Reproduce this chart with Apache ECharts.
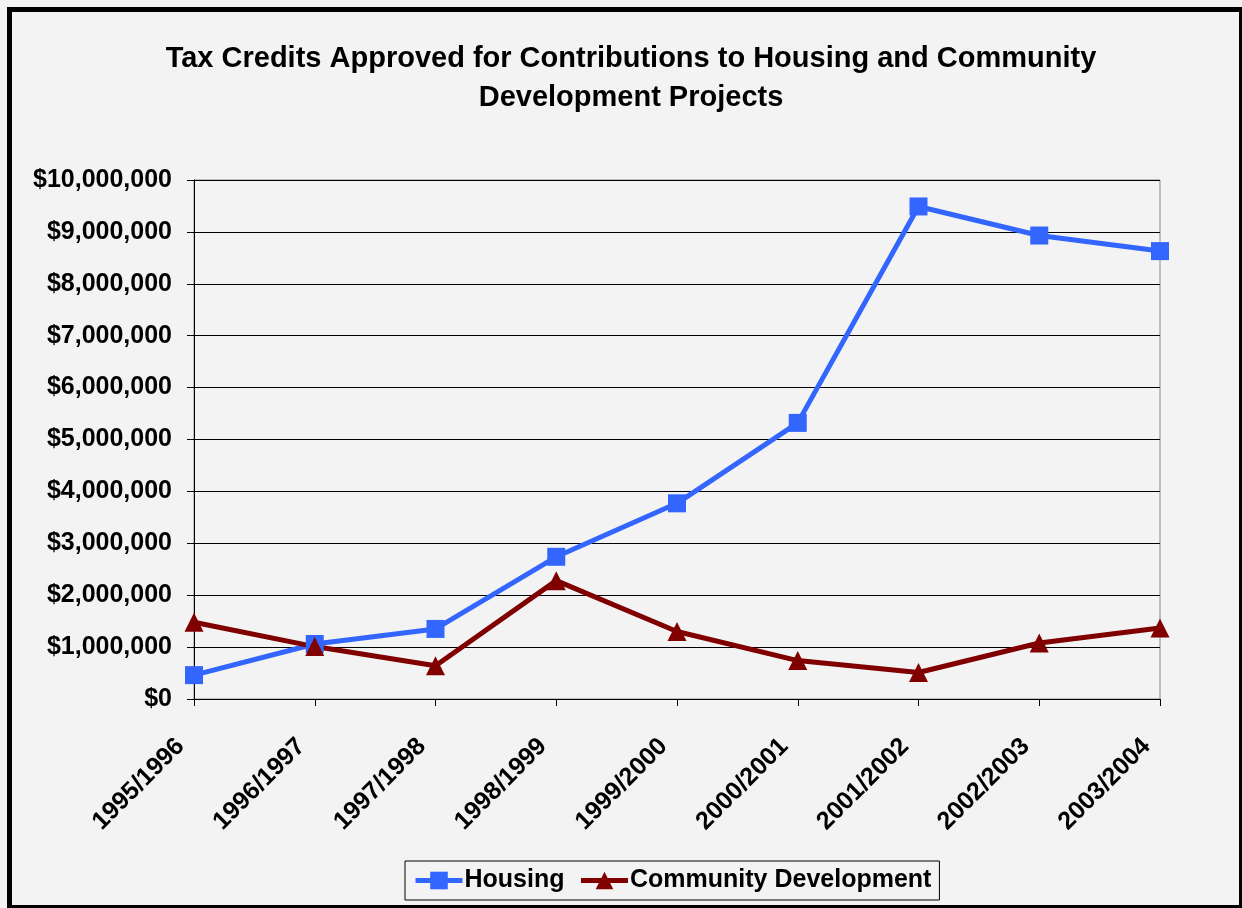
<!DOCTYPE html>
<html>
<head>
<meta charset="utf-8">
<script src="https://cdn.jsdelivr.net/npm/echarts@6/dist/echarts.min.js"></script>
<style>
html,body{margin:0;padding:0;background:#f3f3f3;}
#chart{width:1242px;height:908px;}
</style>
</head>
<body>
<div id="chart"></div>
<script>
const categories = ['1995/1996','1996/1997','1997/1998','1998/1999','1999/2000','2000/2001','2001/2002','2002/2003','2003/2004'];
const housing = [460000, 1060000, 1350000, 2740000, 3770000, 5320000, 9490000, 8930000, 8630000];
const community = [1480000, 1010000, 640000, 2280000, 1300000, 740000, 510000, 1080000, 1370000];
const yTicks = { min: 0, max: 10000000, interval: 1000000 };

const font = 'Liberation Sans, Arial, sans-serif';
const chart = echarts.init(document.getElementById('chart'));
chart.setOption({
  backgroundColor: '#f3f3f3',
  animation: false,
  title: {
    text: 'Tax Credits Approved for Contributions to Housing and Community\nDevelopment Projects',
    left: 626, top: 34, textAlign: 'center',
    textStyle: { fontFamily: font, fontSize: 29, fontWeight: 'bold', color: '#000', lineHeight: 39 }
  },
  graphic: [{
    type: 'rect', silent: true,
    shape: { x: 9.5, y: 9.5, width: 1232, height: 898 },
    style: { fill: 'none', stroke: '#000', lineWidth: 5 }
  }],
  legend: {
    bottom: 8, left: 405,
    data: ['Housing', 'Community Development'],
    itemWidth: 47, itemHeight: 22, itemGap: 14,
    padding: [7, 8, 7, 8],
    borderColor: '#000', borderWidth: 1,
    lineStyle: { width: 5 },
    textStyle: { fontFamily: font, fontSize: 25, fontWeight: 'bold', color: '#000', padding: [0, 0, 0, -3] }
  },
  grid: { left: 194, right: 82, top: 180, bottom: 209, show: true, borderColor: '#888', borderWidth: 1, backgroundColor: 'transparent' },
  xAxis: {
    type: 'category', data: categories, boundaryGap: false,
    axisLine: { lineStyle: { color: '#000', width: 1 } },
    axisTick: { show: true, alignWithLabel: true, length: 7, lineStyle: { color: '#000' } },
    axisLabel: { rotate: 45, margin: 30, padding: [0, 19, 0, 0], interval: 0, fontFamily: font, fontSize: 25, fontWeight: 'bold', color: '#000' },
    splitLine: { show: false }
  },
  yAxis: {
    type: 'value', min: yTicks.min, max: yTicks.max, interval: yTicks.interval,
    axisLine: { show: true, lineStyle: { color: '#000', width: 1 } },
    axisTick: { show: true, length: 7, lineStyle: { color: '#000' } },
    axisLabel: {
      margin: 22, fontFamily: font, fontSize: 25, fontWeight: 'bold', color: '#000',
      formatter: v => '$' + v.toLocaleString('en-US')
    },
    splitLine: { show: true, lineStyle: { color: '#000', width: 1 } }
  },
  series: [
    {
      name: 'Housing', type: 'line', data: housing,
      symbol: 'rect', symbolSize: 18,
      lineStyle: { color: '#3366ff', width: 5 },
      itemStyle: { color: '#3366ff' }
    },
    {
      name: 'Community Development', type: 'line', data: community,
      symbol: 'triangle', symbolSize: 19,
      lineStyle: { color: '#800000', width: 5 },
      itemStyle: { color: '#800000' }
    }
  ]
});
</script>
</body>
</html>
